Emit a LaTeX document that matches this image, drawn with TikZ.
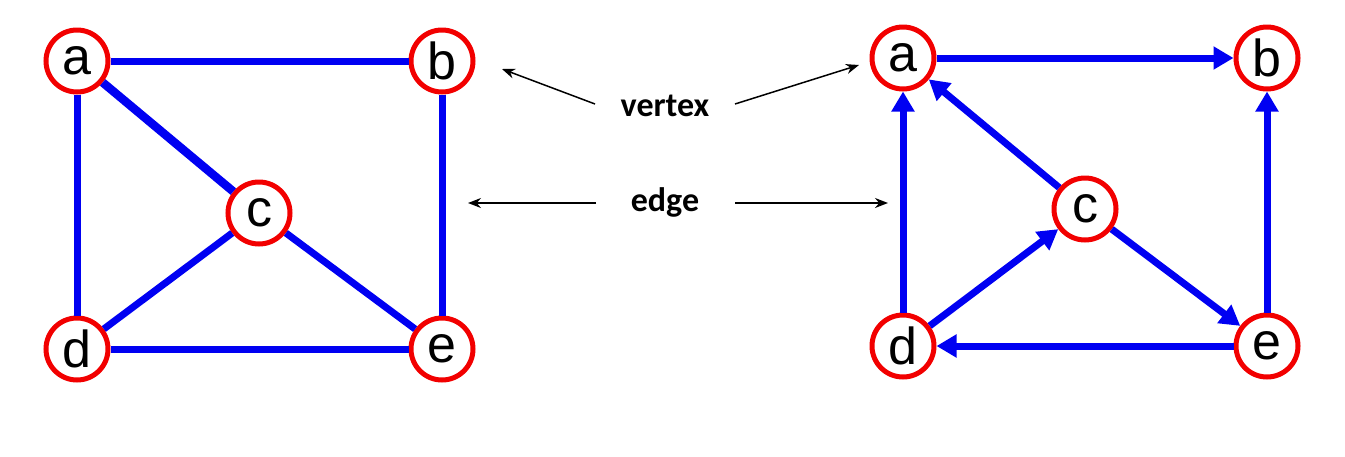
\documentclass[tikz,border=0pt]{standalone}
\usepackage{fontspec}
\setmainfont{Liberation Sans}
\newfontfamily\labelfont{Carlito}
\usetikzlibrary{arrows.meta}

\begin{document}
\begin{tikzpicture}[x=1pt,y=-1pt,
  vertexnode/.style={circle,draw=red!95!black,line width=5pt,fill=white,
    minimum size=62pt,inner sep=0pt,font=\fontsize{52}{52}\selectfont},
  edgeline/.style={draw=blue!95!black,line width=7pt},
  arcline/.style={edgeline,-{Triangle[length=20pt,width=22pt]}},
  notearrow/.style={draw=black,line width=1.5pt,-{Stealth[length=13pt,width=10pt]}},
  notelabel/.style={font=\labelfont\bfseries\fontsize{34}{34}\selectfont}]
\useasboundingbox (0,0) rectangle (1345,456);
% undirected graph
\node[vertexnode] (la) at (77,61) {a};
\node[vertexnode] (lb) at (442,61) {b};
\node[vertexnode] (lc) at (259,213) {c};
\node[vertexnode] (ld) at (77,349) {d};
\node[vertexnode] (le) at (442,349) {e};
\draw[edgeline] (la) -- (lb);
\draw[edgeline,line width=8.5pt] (la) -- (lc);
\draw[edgeline] (la) -- (ld);
\draw[edgeline] (lb) -- (le);
\draw[edgeline] (lc) -- (ld);
\draw[edgeline] (lc) -- (le);
\draw[edgeline] (ld) -- (le);
% directed graph
\node[vertexnode] (ra) at (903,58) {a};
\node[vertexnode] (rb) at (1267,58) {b};
\node[vertexnode] (rc) at (1085,209) {c};
\node[vertexnode] (rd) at (903,346) {d};
\node[vertexnode] (re) at (1267,346) {e};
\draw[arcline] (ra) -- (rb);
\draw[arcline] (rd) -- (ra);
\draw[arcline] (rc) -- (ra);
\draw[arcline] (rd) -- (rc);
\draw[arcline] (rc) -- (re);
\draw[arcline] (re) -- (rd);
\draw[arcline] (re) -- (rb);
% labels
\node[notelabel] (vtx) at (665,106) {vertex};
\node[notelabel] (edg) at (665,202) {edge};
\coordinate (vl) at (502,69);
\coordinate (vr) at (859,65);
\coordinate (el) at (468,203);
\coordinate (er) at (888,203);
\draw[notearrow] (595,104) -- (vl);
\draw[notearrow] (735,104) -- (vr);
\draw[notearrow] (596,203) -- (el);
\draw[notearrow] (735,203) -- (er);
\end{tikzpicture}
\end{document}
